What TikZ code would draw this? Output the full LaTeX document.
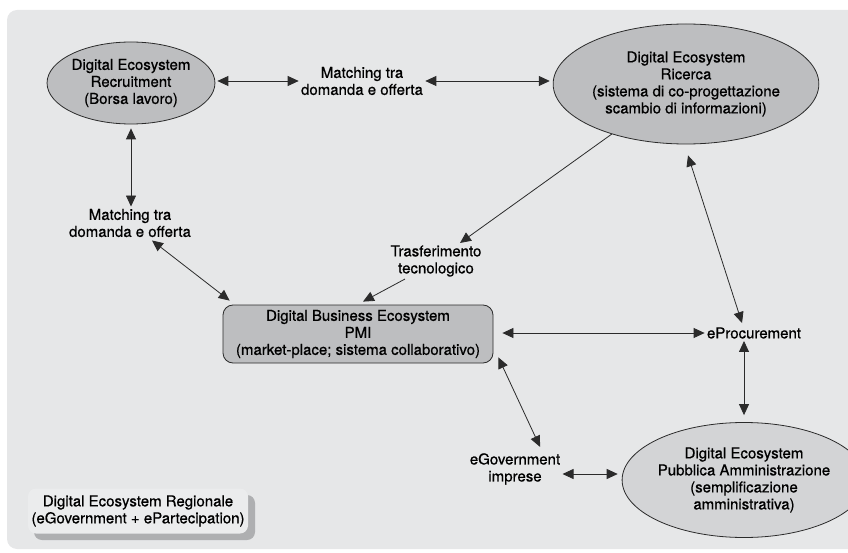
\documentclass[tikz,border=0pt]{standalone}
\usepackage{fontspec}
\setmainfont{TeX Gyre Heros}[FakeBold=0.7]
\usetikzlibrary{arrows.meta,shapes.geometric}

\definecolor{fondo}{HTML}{E6E7E8}
\definecolor{grigioell}{HTML}{BDBEC0}
\definecolor{grigiopa}{HTML}{D3D4D6}
\definecolor{ombra}{HTML}{AEAFB1}
\definecolor{grigioreg}{HTML}{EBECED}
\definecolor{linea}{HTML}{2B2B2B}

\begin{document}
\begin{tikzpicture}[x=1pt,y=-1pt,line width=0.8pt,>={Triangle[length=11pt,width=10pt]},
  eco/.style={ellipse,draw=linea,fill=grigioell,inner sep=0pt,align=center},
  testo/.style={align=center,inner sep=2pt},
  freccia/.style={<->,draw=linea}]
  \useasboundingbox (0,0) rectangle (848,553);
  \fontsize{15}{17}\selectfont
  % sfondo
  \fill[fondo,rounded corners=10pt] (7,10) rectangle (870,549);
  % ecosistemi
  \node[eco,minimum width=143pt,minimum height=82pt] (rec) at (131,83)
    {Digital Ecosystem\\Recruitment\\(Borsa lavoro)};
  \node[eco,minimum width=216pt,minimum height=120pt] (ric) at (686,84)
    {Digital Ecosystem\\Ricerca\\(sistema di co-progettazione\\scambio di informazioni)};
  \node[eco,fill=grigiopa,minimum width=198pt,minimum height=115pt] (pa) at (744,480)
    {Digital Ecosystem\\Pubblica Amministrazione\\(semplificazione\\amministrativa)};
  \node[draw=linea,fill=grigioell,rounded corners=10pt,minimum width=270pt,minimum height=58pt,
    align=center,inner sep=0pt] (biz) at (358,334)
    {Digital Business Ecosystem\\PMI\\(market-place; sistema collaborativo)};
  % box regionale con ombra
  \fill[ombra,rounded corners=8pt] (34,495) rectangle (255,540);
  \node[fill=grigioreg,rounded corners=8pt,minimum width=220pt,minimum height=45pt,
    align=center,inner sep=0pt] (reg) at (138,511)
    {Digital Ecosystem Regionale\\(eGovernment + ePartecipation)};
  % etichette
  \node[testo] (mt1) at (362,81) {Matching tra\\domanda e offerta};
  \node[testo] (mt2) at (130,223) {Matching tra\\domanda e offerta};
  \node[testo] (tt) at (436,261) {Trasferimento\\tecnologico};
  \node[testo] (eproc) at (754,333) {eProcurement};
  \node[testo] (egov) at (515,469) {eGovernment\\imprese};
  % frecce
  \draw[freccia,shorten <=2pt] (rec.east |- mt1.west) -- (mt1.west);
  \draw[freccia,shorten >=3pt] (mt1.east) -- (mt1.east -| ric.west);
  \draw[freccia,shorten <=4pt] (rec.south) -- (rec.south |- mt2.north);
  \draw[freccia] ([xshift=22pt,yshift=-1pt]mt2.south) -- ([xshift=7pt,yshift=4pt]biz.north west);
  \draw[->,draw=linea] (ric.214) -- ([xshift=24pt]tt.north);
  \draw[->,draw=linea] ([xshift=-31pt]tt.south) -- ([xshift=5pt,yshift=3pt]biz.north);
  \draw[freccia,shorten <=9pt] (biz.east |- eproc.west) -- (eproc.west);
  \draw[freccia] ([xshift=2pt,yshift=-11pt]ric.south) -- ([xshift=-12pt,yshift=2pt]eproc.north);
  \draw[freccia,shorten >=7pt] (pa.north |- eproc.south) -- (pa.north);
  \draw[freccia] ([xshift=5pt,yshift=6pt]biz.south east) -- ([xshift=25pt,yshift=4pt]egov.north);
  \draw[freccia,shorten >=4pt] ([yshift=-5pt]egov.east) -- ([yshift=-5pt]egov.east -| pa.west);
\end{tikzpicture}
\end{document}
